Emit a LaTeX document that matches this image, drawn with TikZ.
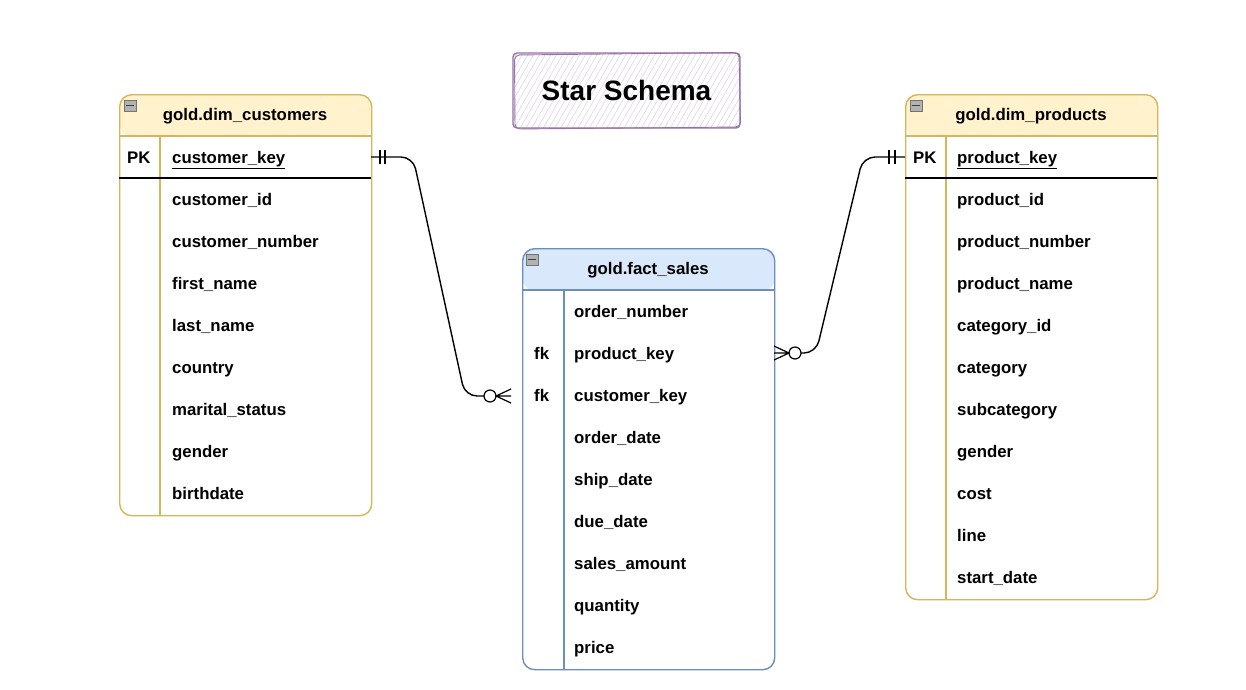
\documentclass[tikz,border=0pt]{standalone}
\usepackage{fontspec}
\setmainfont{Liberation Sans}
\usetikzlibrary{patterns.meta}
\definecolor{yfill}{HTML}{FFF2CC}
\definecolor{ydraw}{HTML}{D6B656}
\definecolor{bfill}{HTML}{DAE8FC}
\definecolor{bdraw}{HTML}{6C8EBF}
\definecolor{pdraw}{HTML}{9673A6}
\definecolor{pfill}{HTML}{E1D5E7}
\tikzset{
  fld/.style={anchor=base west, font=\fontsize{16.8}{20}\selectfont\bfseries, inner sep=0pt},
  hdr/.style={anchor=base, font=\fontsize{16.8}{20}\selectfont\bfseries, inner sep=0pt},
  tbl/.style={draw=#1, line width=1.4pt, rounded corners=12pt, anchor=north west, inner sep=0pt},
  sep/.style={draw=#1, line width=1.4pt},
  keyline/.style={draw=black, line width=1.4pt},
  conn/.style={draw=black, line width=1.4pt},
  erdtick/.style={draw=black, line width=1.2pt},
  icon/.style={draw=black!55, fill=black!30, line width=0.8pt},
}
\begin{document}
\begin{tikzpicture}[x=1pt,y=-1pt]
\useasboundingbox[fill=white] (0,0) rectangle (1246,689);

% ---------- title ----------
\node[draw=pdraw, line width=1.4pt, rounded corners=4pt, minimum width=227pt, minimum height=75pt,
      pattern={Lines[angle=60,distance=5pt,line width=0.6pt]}, pattern color=pfill,
      font=\fontsize{28}{32}\selectfont\bfseries] (title) at (626.5,90.5) {Star Schema};
\draw[pdraw, line width=0.9pt, rounded corners=5pt] (514.5,55) -- (739,52.5) -- (740.5,127) -- (515,129) -- cycle;

% ---------- gold.dim_customers ----------
\node[tbl=ydraw, minimum width=252pt, minimum height=421pt,
  path picture={\fill[yfill] (path picture bounding box.north west) rectangle ([yshift=-42pt]path picture bounding box.north east);}]
  (cust) at (119,94) {};
\draw[sep=ydraw] (119,136) -- (371,136);
\draw[sep=ydraw] (160,136) -- (160,515);
\draw[keyline] (119,178) -- (371,178);
\draw[icon] (124,100) rectangle (136,111);
\draw[black!75, line width=1.2pt] (126,105.5) -- (134,105.5);
\node[hdr] (custH) at (245,120) {gold.dim\_customers};
\node[fld] (custPKl) at (127,163) {PK};
\node[fld] (custPK) at (172,163) {\underline{customer\_key}};
\foreach \t/\y [count=\i] in {customer\_id/199, customer\_number/241, first\_name/283, last\_name/325, country/367, marital\_status/409, gender/451, birthdate/493}
  \node[fld] (cust\i) at (172,\y+6) {\t};

% ---------- gold.dim_products ----------
\node[tbl=ydraw, minimum width=252pt, minimum height=505pt,
  path picture={\fill[yfill] (path picture bounding box.north west) rectangle ([yshift=-42pt]path picture bounding box.north east);}]
  (prod) at (905,94) {};
\draw[sep=ydraw] (905,136) -- (1157,136);
\draw[sep=ydraw] (946,136) -- (946,599);
\draw[keyline] (905,178) -- (1157,178);
\draw[icon] (910,100) rectangle (922,111);
\draw[black!75, line width=1.2pt] (912,105.5) -- (920,105.5);
\node[hdr] (prodH) at (1031,120) {gold.dim\_products};
\node[fld] (prodPKl) at (913,163) {PK};
\node[fld] (prodPK) at (957,163) {\underline{product\_key}};
\foreach \t/\y [count=\i] in {product\_id/199, product\_number/241, product\_name/283, category\_id/325, category/367, subcategory/409, gender/451, cost/493, line/535, start\_date/577}
  \node[fld] (prod\i) at (957,\y+6) {\t};

% ---------- gold.fact_sales ----------
\node[tbl=bdraw, minimum width=252pt, minimum height=421pt,
  path picture={\fill[bfill] (path picture bounding box.north west) rectangle ([yshift=-42pt]path picture bounding box.north east);}]
  (fact) at (522,248) {};
\draw[sep=bdraw] (522,290) -- (774,290);
\draw[sep=bdraw] (564,290) -- (564,669);
\draw[icon] (526,254) rectangle (538,265);
\draw[black!75, line width=1.2pt] (528,259.5) -- (536,259.5);
\node[hdr] (factH) at (648,274) {gold.fact\_sales};
\node[fld] (fk1) at (534,359) {fk};
\node[fld] (fk2) at (534,401) {fk};
\foreach \t/\y [count=\i] in {order\_number/311, product\_key/353, customer\_key/395, order\_date/437, ship\_date/479, due\_date/521, sales\_amount/563, quantity/605, price/647}
  \node[fld] (fact\i) at (574,\y+6) {\t};

% ---------- connectors ----------
\coordinate (L0) at (371,157);
\coordinate (L1) at (484,396);
\coordinate (Lc) at (490,396);
\coordinate (Lf) at (496,396);
\draw[conn, rounded corners=12pt] (L0) -- (413,157) -- (465,396) -- (L1);
\draw[erdtick] (380,150) -- (380,164) (385,150) -- (385,164);
\draw[erdtick] (Lc) circle (6);
\draw[erdtick] (511,389) -- (Lf) -- (511,403) (Lf) -- (511,396);

\coordinate (R0) at (905,157);
\coordinate (R1) at (801,353);
\coordinate (Rc) at (795,353);
\coordinate (Rf) at (789,353);
\draw[conn, rounded corners=12pt] (R0) -- (863,157) -- (816,353) -- (R1);
\draw[erdtick] (889,150) -- (889,164) (895,150) -- (895,164);
\draw[erdtick] (Rc) circle (6);
\draw[erdtick] (774,346) -- (Rf) -- (774,360) (Rf) -- (774,353);
\end{tikzpicture}
\end{document}
